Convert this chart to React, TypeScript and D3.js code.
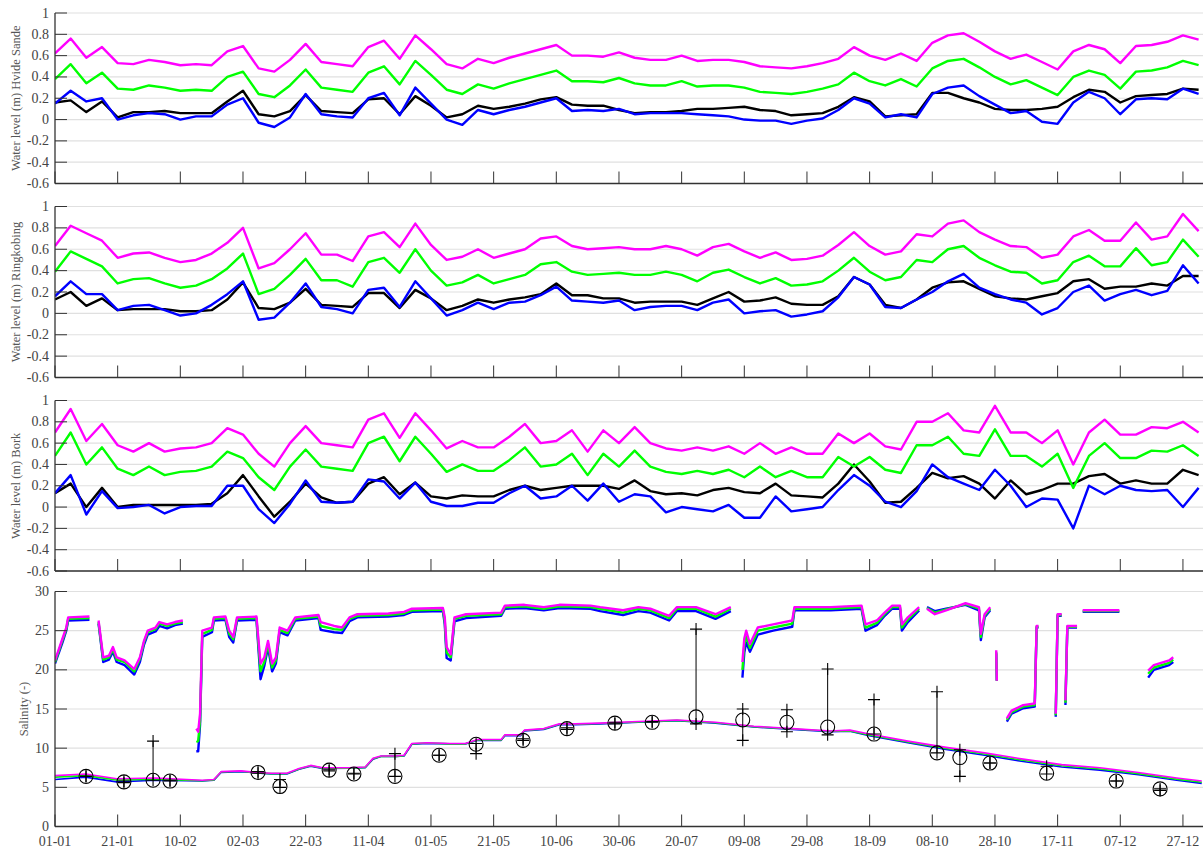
import React, { useRef, useEffect } from 'react';
import * as d3 from 'd3';

const WIDTH = 1203;
const HEIGHT = 849;

// day-of-year sampling for the water level series (every 5 days)
const levelDays = d3.range(0, 366, 5);

// Hvide Sande
const hvBlack = [0.16, 0.18, 0.07, 0.17, 0.02, 0.07, 0.07, 0.08, 0.06, 0.06, 0.06, 0.17, 0.27, 0.05, 0.03, 0.08, 0.23, 0.08, 0.07, 0.06, 0.19, 0.2, 0.05, 0.22, 0.13, 0.02, 0.05, 0.13, 0.1, 0.12, 0.15, 0.19, 0.21, 0.14, 0.13, 0.13,
  0.09, 0.06, 0.07, 0.07, 0.08, 0.1, 0.1, 0.11, 0.12, 0.09, 0.08, 0.04, 0.05, 0.06, 0.12, 0.21, 0.17, 0.03, 0.04, 0.05, 0.25, 0.25, 0.2, 0.16, 0.1, 0.09, 0.09, 0.1, 0.12, 0.21, 0.28, 0.26, 0.16, 0.22, 0.23, 0.24, 0.29, 0.28];
const hvBlue = [0.15, 0.27, 0.17, 0.2, 0.0, 0.04, 0.06, 0.05, 0.0, 0.03, 0.03, 0.14, 0.2, -0.03, -0.07, 0.02, 0.24, 0.05, 0.03, 0.02, 0.2, 0.25, 0.04, 0.3, 0.15, 0.0, -0.05, 0.09, 0.05, 0.09, 0.12, 0.16, 0.2, 0.08, 0.09, 0.08,
  0.1, 0.05, 0.06, 0.06, 0.06, 0.05, 0.04, 0.03, 0.0, -0.01, -0.01, -0.04, -0.01, 0.01, 0.09, 0.2, 0.15, 0.02, 0.05, 0.02, 0.24, 0.3, 0.32, 0.22, 0.14, 0.06, 0.08, -0.02, -0.04, 0.16, 0.26, 0.2, 0.05, 0.19, 0.2, 0.19, 0.29, 0.24];
const hvGreen = [0.38, 0.52, 0.34, 0.44, 0.29, 0.28, 0.32, 0.30, 0.27, 0.28, 0.27, 0.40, 0.45, 0.24, 0.21, 0.32, 0.47, 0.30, 0.28, 0.26, 0.44, 0.50, 0.33, 0.55, 0.42, 0.28, 0.24, 0.33, 0.29, 0.34, 0.38, 0.42, 0.46, 0.36, 0.36, 0.35,
  0.39, 0.34, 0.32, 0.32, 0.36, 0.31, 0.32, 0.32, 0.30, 0.26, 0.25, 0.24, 0.26, 0.29, 0.33, 0.44, 0.36, 0.32, 0.38, 0.31, 0.48, 0.55, 0.57, 0.49, 0.40, 0.33, 0.37, 0.30, 0.23, 0.40, 0.46, 0.42, 0.29, 0.45, 0.46, 0.49, 0.55, 0.51];
const hvMagenta = [0.62, 0.76, 0.58, 0.68, 0.53, 0.52, 0.56, 0.54, 0.51, 0.52, 0.51, 0.64, 0.69, 0.48, 0.45, 0.56, 0.71, 0.54, 0.52, 0.50, 0.68, 0.74, 0.57, 0.79, 0.66, 0.52, 0.48, 0.57, 0.53, 0.58, 0.62, 0.66, 0.70, 0.60, 0.60, 0.59,
  0.63, 0.58, 0.56, 0.56, 0.60, 0.55, 0.56, 0.56, 0.54, 0.50, 0.49, 0.48, 0.50, 0.53, 0.57, 0.68, 0.60, 0.56, 0.62, 0.55, 0.72, 0.79, 0.81, 0.73, 0.64, 0.57, 0.61, 0.54, 0.47, 0.64, 0.70, 0.66, 0.53, 0.69, 0.70, 0.73, 0.79, 0.75];

// Ringkobing
const rkBlack = [0.13, 0.2, 0.07, 0.14, 0.03, 0.04, 0.04, 0.04, 0.02, 0.02, 0.03, 0.13, 0.29, 0.05, 0.04, 0.1, 0.23, 0.08, 0.07, 0.06, 0.19, 0.19, 0.05, 0.22, 0.14, 0.03, 0.07, 0.13, 0.1, 0.13, 0.15, 0.18, 0.28, 0.17, 0.17, 0.14,
  0.14, 0.1, 0.11, 0.11, 0.11, 0.08, 0.14, 0.2, 0.11, 0.12, 0.15, 0.09, 0.08, 0.08, 0.16, 0.34, 0.27, 0.08, 0.05, 0.13, 0.24, 0.29, 0.3, 0.23, 0.16, 0.14, 0.13, 0.16, 0.19, 0.3, 0.32, 0.23, 0.25, 0.25, 0.28, 0.26, 0.35, 0.35];
const rkBlue = [0.16, 0.3, 0.18, 0.18, 0.03, 0.07, 0.08, 0.03, -0.02, 0.0, 0.08, 0.18, 0.3, -0.06, -0.04, 0.1, 0.28, 0.06, 0.04, 0.0, 0.22, 0.24, 0.06, 0.3, 0.14, -0.02, 0.03, 0.1, 0.04, 0.1, 0.11, 0.17, 0.25, 0.12, 0.11, 0.1,
  0.12, 0.03, 0.06, 0.07, 0.07, 0.03, 0.1, 0.13, 0.0, 0.02, 0.03, -0.03, -0.01, 0.02, 0.15, 0.34, 0.27, 0.06, 0.05, 0.13, 0.2, 0.3, 0.37, 0.24, 0.18, 0.13, 0.1, -0.01, 0.05, 0.2, 0.26, 0.12, 0.18, 0.22, 0.17, 0.21, 0.45, 0.28];
const rkGreen = [0.39, 0.58, 0.51, 0.44, 0.28, 0.32, 0.33, 0.28, 0.24, 0.26, 0.32, 0.42, 0.56, 0.18, 0.23, 0.36, 0.51, 0.31, 0.31, 0.25, 0.48, 0.52, 0.38, 0.60, 0.40, 0.26, 0.29, 0.36, 0.28, 0.32, 0.36, 0.46, 0.48, 0.39, 0.36, 0.37,
  0.38, 0.36, 0.36, 0.39, 0.36, 0.30, 0.38, 0.41, 0.34, 0.28, 0.33, 0.26, 0.27, 0.30, 0.40, 0.52, 0.39, 0.31, 0.34, 0.50, 0.48, 0.60, 0.63, 0.52, 0.45, 0.39, 0.38, 0.28, 0.31, 0.48, 0.54, 0.44, 0.44, 0.61, 0.45, 0.48, 0.69, 0.53];
const rkMagenta = [0.63, 0.82, 0.75, 0.68, 0.52, 0.56, 0.57, 0.52, 0.48, 0.50, 0.56, 0.66, 0.80, 0.42, 0.47, 0.60, 0.75, 0.55, 0.55, 0.49, 0.72, 0.76, 0.62, 0.84, 0.64, 0.50, 0.53, 0.60, 0.52, 0.56, 0.60, 0.70, 0.72, 0.63, 0.60, 0.61,
  0.62, 0.60, 0.60, 0.63, 0.60, 0.54, 0.62, 0.65, 0.58, 0.52, 0.57, 0.50, 0.51, 0.54, 0.64, 0.76, 0.63, 0.55, 0.58, 0.74, 0.72, 0.84, 0.87, 0.76, 0.69, 0.63, 0.62, 0.52, 0.55, 0.72, 0.78, 0.68, 0.68, 0.85, 0.69, 0.72, 0.93, 0.77];

// Bork
const bkBlack = [0.13, 0.22, 0.0, 0.18, 0.0, 0.02, 0.02, 0.02, 0.02, 0.02, 0.03, 0.13, 0.3, 0.1, -0.09, 0.05, 0.22, 0.09, 0.04, 0.05, 0.22, 0.28, 0.12, 0.23, 0.1, 0.08, 0.11, 0.1, 0.1, 0.16, 0.2, 0.16, 0.18, 0.2, 0.2, 0.2,
  0.17, 0.25, 0.15, 0.12, 0.13, 0.11, 0.16, 0.18, 0.14, 0.13, 0.22, 0.11, 0.1, 0.09, 0.22, 0.4, 0.24, 0.04, 0.05, 0.18, 0.32, 0.27, 0.29, 0.22, 0.08, 0.25, 0.12, 0.16, 0.22, 0.22, 0.29, 0.31, 0.22, 0.25, 0.22, 0.22, 0.35, 0.3];
const bkBlue = [0.13, 0.3, -0.07, 0.15, -0.01, 0.0, 0.02, -0.06, 0.0, 0.01, 0.01, 0.2, 0.2, -0.02, -0.15, 0.03, 0.25, 0.05, 0.04, 0.05, 0.26, 0.24, 0.08, 0.23, 0.05, 0.01, 0.01, 0.04, 0.04, 0.13, 0.2, 0.08, 0.1, 0.2, 0.06, 0.22,
  0.05, 0.12, 0.1, -0.05, 0.0, -0.02, -0.04, 0.02, -0.1, -0.1, 0.1, -0.04, -0.02, 0.0, 0.16, 0.3, 0.2, 0.05, 0.0, 0.15, 0.4, 0.28, 0.22, 0.16, 0.35, 0.2, 0.0, 0.08, 0.07, -0.2, 0.2, 0.12, 0.2, 0.16, 0.15, 0.16, 0.0, 0.18];
const bkGreen = [0.48, 0.70, 0.40, 0.56, 0.36, 0.30, 0.38, 0.30, 0.33, 0.34, 0.38, 0.52, 0.46, 0.28, 0.16, 0.38, 0.54, 0.38, 0.36, 0.34, 0.60, 0.66, 0.43, 0.66, 0.50, 0.33, 0.40, 0.34, 0.34, 0.44, 0.56, 0.38, 0.40, 0.50, 0.30, 0.50,
  0.38, 0.53, 0.38, 0.33, 0.31, 0.34, 0.31, 0.35, 0.28, 0.38, 0.28, 0.34, 0.28, 0.28, 0.47, 0.38, 0.47, 0.35, 0.32, 0.58, 0.58, 0.66, 0.50, 0.48, 0.73, 0.48, 0.48, 0.38, 0.50, 0.18, 0.48, 0.60, 0.46, 0.46, 0.53, 0.52, 0.58, 0.48];
const bkMagenta = [0.70, 0.92, 0.62, 0.78, 0.58, 0.52, 0.60, 0.52, 0.55, 0.56, 0.60, 0.74, 0.68, 0.50, 0.38, 0.60, 0.76, 0.60, 0.58, 0.56, 0.82, 0.88, 0.65, 0.88, 0.72, 0.55, 0.62, 0.56, 0.56, 0.66, 0.78, 0.60, 0.62, 0.72, 0.52, 0.72,
  0.60, 0.75, 0.60, 0.55, 0.53, 0.56, 0.53, 0.57, 0.50, 0.60, 0.50, 0.56, 0.50, 0.50, 0.69, 0.60, 0.69, 0.57, 0.54, 0.80, 0.80, 0.88, 0.72, 0.70, 0.95, 0.70, 0.70, 0.60, 0.72, 0.40, 0.70, 0.82, 0.68, 0.68, 0.75, 0.74, 0.80, 0.70];

// Salinity, outer (upper) series - null marks a gap
const salUpDays = [0, 2.4, 3.6, 4.2, 11, 12, 13.9, 15.4, 17.2, 18.5, 19.7, 22.2, 25.3, 27.1, 28.4, 29.6, 32.1, 33.3, 35.8, 38.3, 40.8, 43,
  45.1, 45.7, 46.3, 47, 50.1, 50.7, 54.4, 55.6, 56.9, 58.1, 64.3, 65.6, 66.8, 68, 69.3, 70.5, 71.7, 74.2, 76.7, 84.1, 84.8, 89.1, 91.6, 94, 96.5,
  106.4, 111.4, 113.9, 123.8, 124.4, 125, 126.3, 127.5, 131.2, 142.4, 143.6, 149.8, 156, 161, 170.9, 174, 181.3, 186.2, 190, 196, 198.5, 204.6,
  210.8, 215.7, 217, 219.4, 220, 220.6, 221.8, 224.3, 229.2, 235.3, 236, 247.6, 257.4, 258.7, 262.3, 264.8, 267.2, 269.7, 270.3, 272.2, 275.8,
  277, 278.3, 280.8, 284.4, 290.6, 294.9, 295.5, 296.7, 298.5, 299.5, 300.4, 300.6, 302, 303.8, 305.3, 309, 312.7, 313.3, 313.9, 316, 319.4,
  320, 321.3, 322, 322.5, 323.1, 326.2, 327, 328, 339.7, 345, 348.9, 350.7, 355.6, 356.9];
const salUpMagenta = [21.2, 24.0, 25.4, 26.7, 26.8, null, 26.3, 21.6, 21.8, 22.9, 21.6, 21.2, 20.1, 21.6, 23.7, 25.0, 25.4, 26.1, 25.8, 26.1, 26.3, null,
  12.5, 12.1, 14.4, 25.0, 25.4, 26.7, 26.8, 25.0, 24.2, 26.7, 26.8, 20.8, 21.6, 23.7, 20.8, 21.6, 25.4, 25.0, 26.7, 27.0, 26.1, 25.6, 25.4, 26.7, 27.1,
  27.2, 27.4, 27.8, 27.9, 26.7, 22.9, 22.0, 26.7, 27.1, 27.3, 28.2, 28.3, 28.0, 28.3, 28.2, 28.0, 27.6, 28.0, 27.8, 26.9, 28.0, 28.0,
  27.1, 28.0, null, 21.0, 24.0, 25.0, 23.3, 25.4, 25.8, 26.3, 28.0, 28.0, 28.2, 25.8, 26.3, 27.3, 28.2, 28.2, 25.8, 26.7, 28.0,
  null, 27.8, 27.1, 27.6, 28.5, 28.0, 24.6, 27.1, 28.0, null, 22.5, 18.6, null, 13.8, 14.8, 15.5, 15.7, 25.6, 25.6, null, 14.4,
  27.1, 27.1, null, 16.1, 25.6, 25.6, null, 27.6, 27.6, null, 19.9, 20.6, 21.2, 21.6];
const salUpGreen = [21.0, 23.8, 25.2, 26.5, 26.6, null, 26.1, 21.3, 21.6, 22.6, 21.3, 21.0, 19.8, 21.4, 23.5, 24.8, 25.2, 25.9, 25.6, 25.9, 26.1, null,
  10.8, 10.9, 13.5, 24.6, 25.1, 26.5, 26.6, 24.6, 23.9, 26.5, 26.6, 19.8, 21.0, 23.3, 20.3, 21.2, 25.1, 24.7, 26.5, 26.8, 25.6, 25.2, 25.1, 26.5, 26.9,
  27.0, 27.2, 27.6, 27.7, 26.2, 22.2, 21.6, 26.5, 26.9, 27.1, 28.0, 28.1, 27.8, 28.1, 28.0, 27.8, 27.3, 27.8, 27.6, 26.6, 27.8, 27.8,
  26.8, 27.8, null, 20.0, 23.2, 24.3, 22.8, 25.0, 25.4, 25.9, 27.8, 27.8, 28.0, 25.4, 26.0, 27.1, 28.0, 28.0, 25.4, 26.4, 27.8,
  null, 27.9, 27.3, 27.7, 28.4, 27.8, 24.2, 26.9, 27.8, null, 22.3, 18.6, null, 13.6, 14.6, 15.3, 15.5, 25.5, 25.5, null, 14.2,
  27.0, 27.0, null, 15.8, 25.5, 25.5, null, 27.5, 27.5, null, 19.5, 20.3, 20.9, 21.3];
const salUpBlue = [20.8, 23.5, 25.0, 26.3, 26.4, null, 25.9, 21.0, 21.3, 22.3, 21.0, 20.6, 19.4, 21.0, 23.2, 24.5, 24.9, 25.6, 25.3, 25.7, 25.9, null,
  9.6, 9.6, 13.0, 24.2, 24.8, 26.3, 26.4, 24.2, 23.5, 26.3, 26.4, 18.8, 20.5, 22.9, 19.8, 20.8, 24.8, 24.4, 26.3, 26.6, 25.1, 24.8, 24.7, 26.2, 26.7,
  26.8, 27.0, 27.4, 27.5, 25.8, 21.5, 21.2, 26.2, 26.6, 26.9, 27.8, 27.9, 27.6, 27.9, 27.8, 27.5, 27.0, 27.5, 27.3, 26.3, 27.5, 27.5,
  26.5, 27.5, null, 19.0, 22.2, 23.5, 22.3, 24.5, 25.0, 25.5, 27.6, 27.6, 27.8, 25.0, 25.7, 26.9, 27.8, 27.8, 25.0, 26.1, 27.6,
  null, 28.0, 27.5, 27.8, 28.3, 27.6, 23.8, 26.7, 27.6, null, 22.1, 18.6, null, 13.4, 14.4, 15.1, 15.3, 25.4, 25.4, null, 14.0,
  26.9, 26.9, null, 15.5, 25.4, 25.4, null, 27.4, 27.4, null, 19.0, 20.0, 20.6, 21.0];

// Salinity, inner (lower) series
const salLowDays = [0, 9.8, 19.7, 32, 47, 50.7, 53, 59.3, 64.3, 69, 74, 77.9, 81.6, 85.4, 94, 99, 101.5, 104, 109, 111.4, 113.9, 118.8, 126, 131, 134.9,
  142.4, 143.6, 148.6, 149.8, 156, 161, 166, 174, 186.2, 198.5, 210.8, 223, 235.3, 247.6, 253.7, 259.9, 272.2, 284.4, 296.7, 309, 321.3, 333.5, 345.8, 358, 366];
const salLowMagenta = [6.5, 6.7, 6.1, 6.2, 5.9, 6.0, 7.0, 7.1, 6.9, 6.8, 6.8, 7.4, 7.8, 7.5, 7.5, 7.6, 8.7, 9.0, 9.0, 9.1, 10.6, 10.7, 10.6, 10.6, 11.1,
  11.1, 11.7, 11.7, 12.3, 12.5, 13.1, 13.1, 13.2, 13.4, 13.6, 13.3, 12.8, 12.5, 12.2, 12.3, 11.8, 10.9, 10.1, 9.4, 8.6, 7.9, 7.5, 6.9, 6.2, 5.8];
const salLowGreen = [6.3, 6.5, 5.95, 6.05, 5.85, 5.95, 6.95, 7.05, 6.85, 6.75, 6.75, 7.35, 7.75, 7.45, 7.45, 7.55, 8.65, 8.95, 8.95, 9.05, 10.55, 10.65, 10.55, 10.55, 11.05,
  11.05, 11.65, 11.65, 12.25, 12.45, 13.05, 13.05, 13.15, 13.35, 13.55, 13.25, 12.75, 12.45, 12.15, 12.2, 11.7, 10.8, 9.95, 9.25, 8.45, 7.75, 7.35, 6.75, 6.05, 5.65];
const salLowBlue = [6.0, 6.3, 5.7, 5.9, 5.8, 5.9, 6.9, 7.0, 6.85, 6.7, 6.7, 7.3, 7.7, 7.4, 7.45, 7.5, 8.6, 8.95, 8.95, 9.0, 10.5, 10.6, 10.55, 10.55, 11.0,
  11.0, 11.6, 11.6, 12.2, 12.4, 13.0, 13.0, 13.1, 13.3, 13.5, 13.2, 12.7, 12.4, 12.1, 12.15, 11.6, 10.7, 9.85, 9.1, 8.3, 7.6, 7.2, 6.6, 5.9, 5.5];

// Salinity observations: mean (circle) and min / max (+ markers joined by a line)
const obsDays = [9.9, 22, 31.3, 36.7, 64.8, 71.8, 87.5, 95.4, 108.5, 122.6, 134.4, 149.4, 163.4, 178.7, 190.6, 204.6, 219.5, 233.6, 246.6, 261.4, 281.5, 288.8, 298.4, 316.5, 338.7, 352.7];
const obsMean = [6.4, 5.7, 5.9, 5.8, 6.9, 5.1, 7.2, 6.7, 6.4, 9.1, 10.5, 11.0, 12.5, 13.2, 13.3, 14.0, 13.6, 13.3, 12.7, 11.8, 9.4, 8.8, 8.1, 6.8, 5.8, 4.8];
const obsMin = [6.4, 5.6, 5.9, 5.8, 6.8, 5.0, 7.1, 6.7, 6.4, 9.1, 9.3, 11.0, 12.4, 13.1, 13.3, 13.1, 11.0, 12.1, 11.7, 11.8, 9.4, 6.4, 8.1, 6.7, 5.8, 4.6];
const obsMax = [6.4, 5.8, 10.9, 5.9, 7.0, 6.0, 7.3, 6.8, 9.3, 9.1, 10.6, 11.2, 12.6, 13.3, 13.4, 25.2, 15.0, 14.9, 20.1, 16.2, 17.2, 9.8, 8.1, 7.7, 5.8, 4.8];

const tickDays = [0, 20, 40, 60, 80, 100, 120, 140, 160, 180, 200, 220, 240, 260, 280, 300, 320, 340, 360];
const tickLabels = ['01-01', '21-01', '10-02', '02-03', '22-03', '11-04', '01-05', '21-05', '10-06', '30-06', '20-07', '09-08', '29-08', '18-09', '08-10', '28-10', '17-11', '07-12', '27-12'];
const levelTicks = [-0.6, -0.4, -0.2, 0, 0.2, 0.4, 0.6, 0.8, 1];
const salinityTicks = [0, 5, 10, 15, 20, 25, 30];

const levelPanels = [
  { title: 'Water level (m) Hvide Sande', black: hvBlack, blue: hvBlue, green: hvGreen, magenta: hvMagenta },
  { title: 'Water level (m) Ringkobing', black: rkBlack, blue: rkBlue, green: rkGreen, magenta: rkMagenta },
  { title: 'Water level (m) Bork', black: bkBlack, blue: bkBlue, green: bkGreen, magenta: bkMagenta },
];

// panel layout in pixels
const layout = [
  { top: 13, bottom: 183.5 },
  { top: 206.5, bottom: 377.5 },
  { top: 400.5, bottom: 571 },
  { top: 591.5, bottom: 826.5 },
];

const FONT = "'Liberation Serif', 'Times New Roman', serif";
const AXIS = '#333333';
const LABEL = '#444444';
const GRID = '#e0e0e0';

const App: React.FC = () => {
  const svgRef = useRef<SVGSVGElement>(null);

  useEffect(() => {
    if (!svgRef.current) return;
    const svg = d3.select(svgRef.current);
    svg.selectAll('*').remove();

    const left = 55;
    const right = WIDTH;
    const x = d3.scaleLinear().domain([0, 366.4]).range([left, right]);

    const defs = svg.append('defs');

    const drawFrame = (
      idx: number,
      y: d3.ScaleLinear<number, number>,
      ticks: number[],
      title: string,
      titleX: number,
      showLabels: boolean
    ) => {
      const { top, bottom } = layout[idx];
      const g = svg.append('g');

      // y tick labels
      g.selectAll('.ylab')
        .data(ticks)
        .enter()
        .append('text')
        .attr('x', 49)
        .attr('y', d => y(d))
        .attr('text-anchor', 'end')
        .attr('dominant-baseline', 'central')
        .style('font-family', FONT)
        .style('font-size', '14px')
        .style('fill', LABEL)
        .text(d => String(+d.toFixed(1)));

      // left axis
      g.append('line')
        .attr('x1', left).attr('x2', left)
        .attr('y1', top).attr('y2', bottom)
        .attr('stroke', AXIS).attr('stroke-width', 1.3);
      g.selectAll('.ytick')
        .data(ticks)
        .enter()
        .append('line')
        .attr('x1', left).attr('x2', left + 12)
        .attr('y1', d => y(d)).attr('y2', d => y(d))
        .attr('stroke', AXIS).attr('stroke-width', 1);

      // bottom axis
      g.append('line')
        .attr('x1', left).attr('x2', right)
        .attr('y1', bottom).attr('y2', bottom)
        .attr('stroke', AXIS).attr('stroke-width', 1.3);
      g.selectAll('.xtick')
        .data(tickDays)
        .enter()
        .append('line')
        .attr('x1', d => x(d)).attr('x2', d => x(d))
        .attr('y1', bottom).attr('y2', bottom - 12)
        .attr('stroke', AXIS).attr('stroke-width', 1);

      if (showLabels) {
        g.selectAll('.xlab')
          .data(tickDays)
          .enter()
          .append('text')
          .attr('x', d => x(d))
          .attr('y', 846)
          .attr('text-anchor', 'middle')
          .style('font-family', FONT)
          .style('font-size', '14px')
          .style('fill', LABEL)
          .text((_, i) => tickLabels[i]);
      }

      // y title
      g.append('text')
        .attr('transform', `translate(${titleX}, ${(top + bottom) / 2}) rotate(-90)`)
        .attr('text-anchor', 'middle')
        .style('font-family', FONT)
        .style('font-size', '12.5px')
        .style('fill', '#555555')
        .text(title);
    };

    const drawGrid = (y: d3.ScaleLinear<number, number>, ticks: number[]) => {
      svg.append('g')
        .selectAll('line')
        .data(ticks)
        .enter()
        .append('line')
        .attr('x1', left).attr('x2', right)
        .attr('y1', d => y(d)).attr('y2', d => y(d))
        .attr('stroke', GRID).attr('stroke-width', 1.2);
    };

    const addClip = (idx: number) => {
      const { top, bottom } = layout[idx];
      defs.append('clipPath')
        .attr('id', `clip-${idx}`)
        .append('rect')
        .attr('x', left).attr('y', top - 2)
        .attr('width', right - left).attr('height', bottom - top + 2);
      return `url(#clip-${idx})`;
    };

    // Water level panels
    levelPanels.forEach((p, idx) => {
      const { top, bottom } = layout[idx];
      const y = d3.scaleLinear().domain([-0.6, 1]).range([bottom, top]);
      drawGrid(y, levelTicks);

      const line = d3.line<number>()
        .x((_, i) => x(levelDays[i]))
        .y(d => y(d));

      const series: [number[], string][] = [
        [p.black, '#000000'],
        [p.blue, '#0000ff'],
        [p.green, '#00ff00'],
        [p.magenta, '#ff00ff'],
      ];
      const lines = svg.append('g').attr('clip-path', addClip(idx));
      series.forEach(([vals, color]) => {
        lines.append('path')
          .attr('d', line(vals) || '')
          .attr('fill', 'none')
          .attr('stroke', color)
          .attr('stroke-width', 2.4)
          .attr('stroke-linejoin', 'round');
      });

      drawFrame(idx, y, levelTicks, p.title, 19.5, false);
    });

    // Salinity panel
    const sIdx = 3;
    const ys = d3.scaleLinear().domain([0, 30]).range([layout[sIdx].bottom, layout[sIdx].top]);
    drawGrid(ys, salinityTicks);

    const salLine = (days: number[]) => d3.line<number | null>()
      .defined(d => d !== null)
      .x((_, i) => x(days[i]))
      .y(d => ys(d as number));

    const sg = svg.append('g').attr('clip-path', addClip(sIdx));
    const salSeries: [number[], (number | null)[], string, number][] = [
      [salUpDays, salUpBlue, '#0000ff', 2.4],
      [salUpDays, salUpGreen, '#00ff00', 2.4],
      [salUpDays, salUpMagenta, '#ff00ff', 2.4],
      [salLowDays, salLowBlue, '#0000ff', 1.6],
      [salLowDays, salLowGreen, '#00ff00', 1.6],
      [salLowDays, salLowMagenta, '#ff00ff', 1.6],
    ];
    salSeries.forEach(([days, vals, color, w]) => {
      sg.append('path')
        .attr('d', salLine(days)(vals) || '')
        .attr('fill', 'none')
        .attr('stroke', color)
        .attr('stroke-width', w)
        .attr('stroke-linejoin', 'round');
    });

    // observations
    const obs = svg.append('g');
    obsDays.forEach((day, i) => {
      const cx = x(day);
      obs.append('line')
        .attr('x1', cx).attr('x2', cx)
        .attr('y1', ys(obsMin[i])).attr('y2', ys(obsMax[i]))
        .attr('stroke', '#000').attr('stroke-width', 1);
      [obsMin[i], obsMax[i]].forEach(v => {
        const py = ys(v);
        obs.append('path')
          .attr('d', `M${cx - 6},${py}H${cx + 6}M${cx},${py - 6}V${py + 6}`)
          .attr('stroke', '#000').attr('stroke-width', 1.1).attr('fill', 'none');
      });
      obs.append('circle')
        .attr('cx', cx).attr('cy', ys(obsMean[i]))
        .attr('r', 7)
        .attr('fill', 'none')
        .attr('stroke', '#000')
        .attr('stroke-width', 1.1);
    });

    drawFrame(sIdx, ys, salinityTicks, 'Salinity (-)', 28, true);
  }, []);

  return (
    <svg
      ref={svgRef}
      width={WIDTH}
      height={HEIGHT}
      style={{ position: 'absolute', left: 0, top: 0, background: '#ffffff' }}
    />
  );
};

export default App;
